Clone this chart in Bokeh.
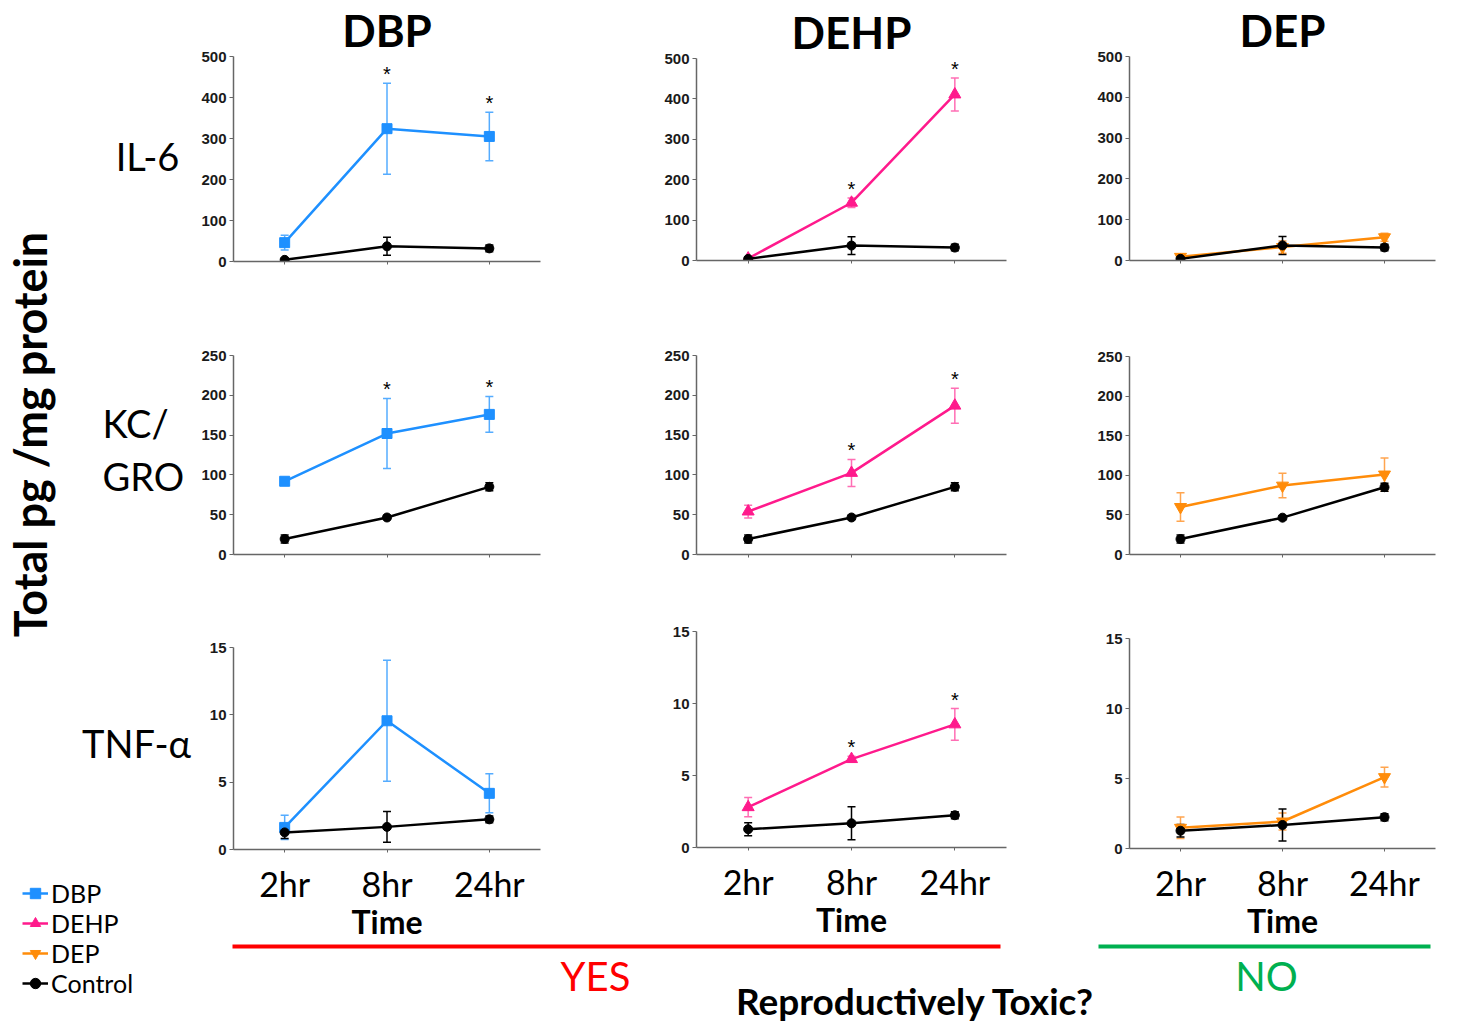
import math
from bokeh.plotting import figure
from bokeh.models import (ColumnDataSource, Whisker, TeeHead, FixedTicker, Range1d,
                          FactorRange, Legend, LegendItem)
from bokeh.layouts import row, column
from bokeh.core.properties import value
from bokeh.embed import file_html
from bokeh.resources import INLINE

# ---------------- data ----------------
times = ["2hr", "8hr", "24hr"]
compounds = ["DBP", "DEHP", "DEP"]
cytokines = ["IL-6", "KC/GRO", "TNF-α"]

yticks_il6 = [0, 100, 200, 300, 400, 500]
yticks_kc = [0, 50, 100, 150, 200, 250]
yticks_tnf = [0, 5, 10, 15]

ctrl_il6 = [4, 37, 32]
ctrl_il6_err = [2, 22, 8]
dbp_il6 = [46, 324, 305]
dbp_il6_err = [18, 111, 59]
dehp_il6 = [5, 143, 411]
dehp_il6_err = [3, 12, 41]
dep_il6 = [9, 33, 57]
dep_il6_err = [5, 15, 10]

ctrl_kc = [19.5, 46.5, 85]
ctrl_kc_err = [5, 2.5, 5]
dbp_kc = [92, 152, 176]
dbp_kc_err = [3, 44, 22.5]
dehp_kc = [54, 102.5, 187]
dehp_kc_err = [8, 17, 22]
dep_kc = [60, 87, 101]
dep_kc_err = [18, 15.5, 21]

ctrl_tnf = [1.27, 1.68, 2.24]
ctrl_tnf_err = [0.45, 1.15, 0.25]
dbp_tnf = [1.64, 9.56, 4.17]
dbp_tnf_err = [0.9, 4.5, 1.45]
dehp_tnf = [2.8, 6.14, 8.55]
dehp_tnf_err = [0.67, 0.2, 1.1]
dep_tnf = [1.48, 1.93, 5.1]
dep_tnf_err = [0.77, 0.6, 0.7]

sig_dbp_il6 = [0, 1, 1]
sig_dbp_kc = [0, 1, 1]
sig_dbp_tnf = [0, 0, 0]
sig_dehp_il6 = [0, 1, 1]
sig_dehp_kc = [0, 1, 1]
sig_dehp_tnf = [0, 1, 1]
sig_dep_il6 = [0, 0, 0]
sig_dep_kc = [0, 0, 0]
sig_dep_tnf = [0, 0, 0]

# ---------------- styles ----------------
LINE_COL = {"DBP": "#1e90ff", "DEHP": "#ff1a8c", "DEP": "#ff8c0a"}
ERR_COL = {"DBP": "#55acff", "DEHP": "#ff6eb4", "DEP": "#ffa54f"}
MARKER = {"DBP": "square", "DEHP": "triangle", "DEP": "inverted_triangle"}
MSIZE = {"DBP": 10, "DEHP": 12, "DEP": 12}
AX_COL = "#666666"
SANS = "Lato"
NUM = "Liberation Sans"

col_w = {"DBP": 463, "DEHP": 435, "DEP": 372}
row_h = [300, 296, 347]
LEFT_W = 192
BOTTOM_TOP = sum(row_h)
# (left, right, top, bottom) borders per panel
borders = {
    "DBP": [(40, 113, 56, 39), (39, 115, 55, 42), (41, 92, 51, 94)],
    "DEHP": [(39, 84, 58, 40), (41, 79, 55, 42), (38, 80, 35, 96)],
    "DEP": [(39, 8, 56, 40), (37, 27, 56, 42), (37, 10, 42, 95)],
}

data = {
    ("DBP", 0): (dbp_il6, dbp_il6_err, sig_dbp_il6),
    ("DBP", 1): (dbp_kc, dbp_kc_err, sig_dbp_kc),
    ("DBP", 2): (dbp_tnf, dbp_tnf_err, sig_dbp_tnf),
    ("DEHP", 0): (dehp_il6, dehp_il6_err, sig_dehp_il6),
    ("DEHP", 1): (dehp_kc, dehp_kc_err, sig_dehp_kc),
    ("DEHP", 2): (dehp_tnf, dehp_tnf_err, sig_dehp_tnf),
    ("DEP", 0): (dep_il6, dep_il6_err, sig_dep_il6),
    ("DEP", 1): (dep_kc, dep_kc_err, sig_dep_kc),
    ("DEP", 2): (dep_tnf, dep_tnf_err, sig_dep_tnf),
}
ctrl = [(ctrl_il6, ctrl_il6_err), (ctrl_kc, ctrl_kc_err), (ctrl_tnf, ctrl_tnf_err)]
yticks = [yticks_il6, yticks_kc, yticks_tnf]


def add_series(p, y, err, color, ecolor, marker, size):
    src = ColumnDataSource(dict(
        x=times, y=y,
        upper=[a + b for a, b in zip(y, err)],
        lower=[a - b for a, b in zip(y, err)],
    ))
    p.add_layout(Whisker(
        source=src, base="x", upper="upper", lower="lower",
        line_color=ecolor, line_width=1.5,
        upper_head=TeeHead(size=8, line_color=ecolor, line_width=1.5),
        lower_head=TeeHead(size=8, line_color=ecolor, line_width=1.5)))
    p.line("x", "y", source=src, line_color=color, line_width=2.5)
    p.scatter("x", "y", source=src, marker=marker, size=size,
              fill_color=color, line_color=color)


def make_panel(comp, r):
    l, rr, t, b = borders[comp][r]
    yt = yticks[r]
    p = figure(width=col_w[comp], height=row_h[r], title=(comp if r == 0 else None),
               x_range=FactorRange(*times), y_range=Range1d(0, yt[-1]),
               output_backend="svg", toolbar_location=None,
               min_border_left=l, min_border_right=rr,
               min_border_top=t, min_border_bottom=b)
    p.background_fill_color = "white"
    p.border_fill_color = "white"
    p.outline_line_color = None
    p.xgrid.visible = False
    p.ygrid.visible = False
    if r == 0:
        p.title.align = "center"
        p.title.text_font = SANS
        p.title.text_font_style = "bold"
        p.title.text_font_size = "44px"
        p.title.text_color = "black"
        p.title.standoff = 2

    ya = p.yaxis[0]
    ya.ticker = FixedTicker(ticks=yt)
    ya.major_label_text_font = NUM
    ya.major_label_text_font_style = "bold"
    ya.major_label_text_font_size = "15px"
    ya.major_label_text_color = "#1a1a1a"
    ya.major_label_standoff = 3
    ya.axis_line_color = AX_COL
    ya.axis_line_width = 1.5
    ya.major_tick_line_color = AX_COL
    ya.major_tick_in = 0
    ya.major_tick_out = 4
    ya.minor_tick_line_color = None

    xa = p.xaxis[0]
    xa.axis_line_color = AX_COL
    xa.axis_line_width = 1.5
    xa.major_tick_line_color = AX_COL
    xa.major_tick_in = 0
    xa.major_tick_out = 3
    xa.minor_tick_line_color = None
    if r == 2:
        xa.major_label_text_font = SANS
        xa.major_label_text_font_size = "34px"
        xa.major_label_text_color = "black"
        xa.major_label_standoff = 10
        xa.axis_label = "Time"
        xa.axis_label_text_font = SANS
        xa.axis_label_text_font_style = "bold"
        xa.axis_label_text_font_size = "32px"
        xa.axis_label_text_color = "black"
        xa.axis_label_standoff = -5
    else:
        xa.major_label_text_color = None
        xa.major_label_text_font_size = "10px"

    y, err, sig = data[(comp, r)]
    add_series(p, y, err, LINE_COL[comp], ERR_COL[comp], MARKER[comp], MSIZE[comp])
    cy, cerr = ctrl[r]
    add_series(p, cy, cerr, "black", "black", "circle", 9)

    sx = [times[i] for i in range(3) if sig[i]]
    sy = [y[i] + err[i] for i in range(3) if sig[i]]
    if sx:
        p.text(x=sx, y=sy, text=["*"] * len(sx), text_align="center",
               text_baseline="alphabetic", y_offset=-9, text_font=value(NUM),
               text_font_size=value("20px"), text_color="black")
    return p


cols = []
for comp in compounds:
    cols.append(column(*[make_panel(comp, r) for r in range(3)], spacing=0))

# ---------------- left column: labels + legend ----------------
left = figure(width=LEFT_W, height=1023, x_range=Range1d(0, LEFT_W),
              y_range=Range1d(1023, 0), output_backend="svg",
              toolbar_location=None, min_border=0)
left.axis.visible = False
left.grid.visible = False
left.outline_line_color = None
left.text(x=[29], y=[434], text=["Total pg /mg protein"], angle=math.pi / 2,
          text_align="center", text_baseline="middle", text_font=value(SANS),
          text_font_style="bold", text_font_size=value("45px"), text_color="black")
left.text(x=[147, 136], y=[155, 742], text=["IL-6", "TNF-α"], text_align="center",
          text_baseline="middle", text_font=value(SANS),
          text_font_size=value("38px"), text_color="black")
left.text(x=[102, 102], y=[422, 475], text=["KC/", "GRO"], text_align="left",
          text_baseline="middle", text_font=value(SANS),
          text_font_size=value("38px"), text_color="black")

nan = float("nan")
leg_items = []
for name, col, mk, sz in [("DBP", LINE_COL["DBP"], "square", 10),
                          ("DEHP", LINE_COL["DEHP"], "triangle", 12),
                          ("DEP", LINE_COL["DEP"], "inverted_triangle", 12),
                          ("Control", "black", "circle", 9)]:
    lr = left.line([nan, nan], [nan, nan], line_color=col, line_width=2.5)
    sr = left.scatter([nan], [nan], marker=mk, size=sz, fill_color=col, line_color=col)
    leg_items.append(LegendItem(label=name, renderers=[lr, sr]))
legend = Legend(items=leg_items, location=(22, 25), padding=0, margin=0, spacing=0,
                glyph_width=26, glyph_height=28, label_standoff=3,
                label_text_font=SANS, label_text_font_size="25px",
                label_text_color="black", border_line_color=None,
                background_fill_alpha=0)
left.add_layout(legend)

# ---------------- bottom strip ----------------
bottom = figure(width=1462 - LEFT_W, height=1023 - BOTTOM_TOP,
                x_range=Range1d(LEFT_W, 1462), y_range=Range1d(1023, BOTTOM_TOP),
                output_backend="svg", toolbar_location=None, min_border=0)
bottom.axis.visible = False
bottom.grid.visible = False
bottom.outline_line_color = None
bottom.segment(x0=[232, 1098], y0=[946, 946], x1=[1000, 1430], y1=[946, 946],
               line_color=["#ff0000", "#00b050"], line_width=4)
bottom.text(x=[595, 1266], y=[975, 975], text=["YES", "NO"], text_align="center",
            text_baseline="middle", text_font=value(SANS),
            text_font_size=value("40px"), text_color=["#ff0000", "#00b050"])
bottom.text(x=[915], y=[1000], text=["Reproductively Toxic?"], text_align="center",
            text_baseline="middle", text_font=value(SANS), text_font_style="bold",
            text_font_size=value("37px"), text_color="black")

layout = row(left, column(row(*cols, spacing=0), bottom, spacing=0), spacing=0)

open("out.html", "w").write(file_html(layout, INLINE))
